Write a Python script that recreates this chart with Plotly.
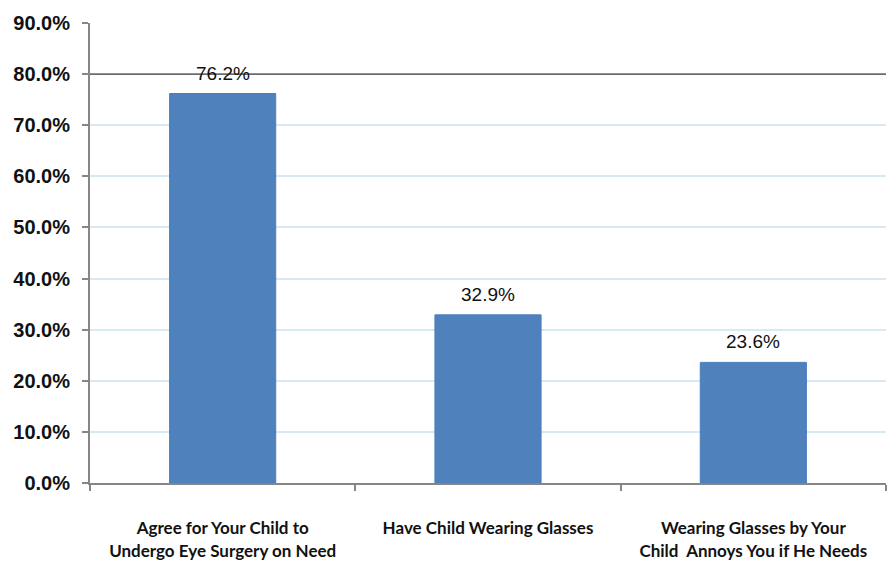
import plotly.graph_objects as go

categories = [
    "Agree for Your Child to<br>Undergo Eye Surgery on Need",
    "Have Child Wearing Glasses",
    "Wearing Glasses by Your<br>Child  Annoys You if He Needs",
]
values = [0.762, 0.329, 0.236]
value_labels = ["76.2%", "32.9%", "23.6%"]
y_ticks = [0, 0.1, 0.2, 0.3, 0.4, 0.5, 0.6, 0.7, 0.8, 0.9]

fig = go.Figure()
fig.add_trace(go.Bar(
    x=categories, y=values,
    marker=dict(color="#4f81bd", line=dict(color="#4a7ebb", width=1)),
    width=0.4,
))

for c, v, t in zip(categories, values, value_labels):
    fig.add_annotation(x=c, y=v, text=t, showarrow=False, yanchor="bottom",
                       yshift=8, font=dict(family="Liberation Sans, Arial", size=19, color="#111"))

fig.add_shape(type="line", xref="paper", x0=0, x1=1, yref="y", y0=0.8, y1=0.8,
              line=dict(color="#404040", width=1.3), layer="above")

fig.update_layout(
    width=889, height=564,
    margin=dict(l=90, r=3, t=23, b=81),
    plot_bgcolor="white", paper_bgcolor="white",
    showlegend=False,
    xaxis=dict(
        showline=True, linecolor="#868686", linewidth=2,
        ticks="outside", ticklen=6, tickcolor="#868686", tickwidth=1.5,
        tickson="boundaries",
        ticklabelstandoff=29,
        tickfont=dict(family="Lato", size=17, color="#111", weight="bold"),
        showgrid=False,
    ),
    yaxis=dict(
        range=[0, 0.9], tickvals=y_ticks, tickformat=".1%",
        showline=True, linecolor="#868686", linewidth=2,
        ticks="outside", ticklen=6, tickcolor="#868686", tickwidth=1.5,
        ticklabelstandoff=8,
        tickfont=dict(family="Liberation Sans, Arial", size=20, color="#111", weight="bold"),
        showgrid=True, gridcolor="#d6eaf5", gridwidth=2,
        zeroline=False,
    ),
)

fig.write_html("out.html")
